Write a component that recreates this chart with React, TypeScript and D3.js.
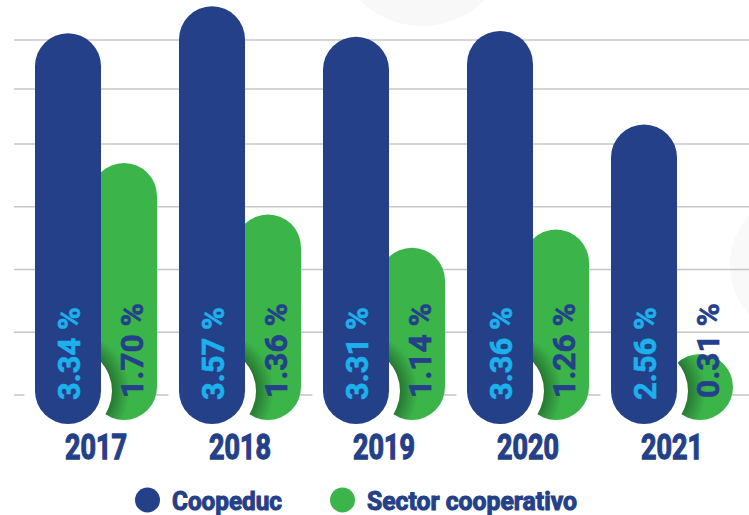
import React from "react";
import * as d3 from "d3";

const years = ["2017", "2018", "2019", "2020", "2021"];
const coopeduc = [3.34, 3.57, 3.31, 3.36, 2.56];
const sector = [1.7, 1.36, 1.14, 1.26, 0.31];
const gridLevels = [0, 1, 2, 3, 4, 5, 6];
const seriesNames = ["Coopeduc", "Sector cooperativo"];

const W = 749;
const H = 515;
const BLUE = "#244088";
const GREEN = "#3bb54a";
const CYAN = "#1cb1ec";
const R = 33;

export default function App() {
  const x = d3.scaleBand<string>().domain(years).range([24, 744]).padding(0);
  const blueBottom = 424;
  const greenBottom = 420;
  const yBlue = d3.scaleLinear().domain([0, 3.6]).range([blueBottom, blueBottom - 3.6 * 117]);
  const hGreen = d3.scaleLinear().domain([0, 1.7]).range([0, 257]);
  const yGrid = d3.scaleLinear().domain([0, 4, 5, 6]).range([395, 144, 89, 40]);
  const off = 28;

  return (
    <svg width={W} height={H} style={{ position: "absolute", left: 0, top: 0, display: "block", background: "#fff" }}>
      <defs>
        {years.map((yr, i) => {
          const bc = (x(yr) as number) + x.bandwidth() / 2 - off;
          const gc = (x(yr) as number) + x.bandwidth() / 2 + off;
          const gh = Math.max(2 * R, hGreen(sector[i]));
          return (
            <React.Fragment key={yr}>
              <radialGradient id={`sh${i}`} gradientUnits="userSpaceOnUse" cx={bc} cy={blueBottom - R} r={62}>
                <stop offset="0.7" stopColor="#000" stopOpacity={0.35} />
                <stop offset="1" stopColor="#000" stopOpacity={0} />
              </radialGradient>
              <clipPath id={`gc${i}`}>
                <rect x={gc - R} y={greenBottom - gh} width={2 * R} height={gh} rx={R} ry={R} />
              </clipPath>
            </React.Fragment>
          );
        })}
      </defs>
      <circle cx={422} cy={-62} r={88} fill="#f8f8f8" />
      <circle cx={805} cy={265} r={75} fill="#f9f9f9" />
      {gridLevels.map((g) => (
        <line key={g} x1={14} x2={W} y1={yGrid(g)} y2={yGrid(g)} stroke="#c6c6c6" strokeWidth={1.5} />
      ))}
      {years.map((yr, i) => {
        const bc = (x(yr) as number) + x.bandwidth() / 2 - off;
        const gc = (x(yr) as number) + x.bandwidth() / 2 + off;
        const gh = Math.max(2 * R, hGreen(sector[i]));
        const bTop = yBlue(coopeduc[i]);
        return (
          <g key={yr}>
            <rect x={gc - R} y={greenBottom - gh} width={2 * R} height={gh} rx={R} ry={R} fill={GREEN} />
            <circle cx={bc} cy={blueBottom - R} r={62} fill={`url(#sh${i})`} clipPath={`url(#gc${i})`} />
            <circle cx={bc} cy={blueBottom - R} r={44} fill="#fff" />
            <rect x={bc - R} y={bTop} width={2 * R} height={blueBottom - bTop} rx={R} ry={R} fill={BLUE} />
            <text
              transform={`translate(${bc + 12},400) rotate(-90)`}
              fontFamily="Roboto, sans-serif"
              fontWeight={700}
              fontSize={32}
              fill={CYAN}
              stroke={CYAN}
              strokeWidth={0.6}
              textLength={93}
              lengthAdjust="spacingAndGlyphs"
            >
              {`${coopeduc[i].toFixed(2)} %`}
            </text>
            <text
              transform={`translate(${gc + 19},398) rotate(-90)`}
              fontFamily="Roboto, sans-serif"
              fontWeight={700}
              fontSize={32}
              fill={BLUE}
              stroke={BLUE}
              strokeWidth={0.6}
              textLength={95}
              lengthAdjust="spacingAndGlyphs"
            >
              {`${sector[i].toFixed(2)} %`}
            </text>
            <text
              x={(x(yr) as number) + x.bandwidth() / 2}
              y={459}
              textAnchor="middle"
              fontFamily="Roboto, sans-serif"
              fontWeight={700}
              fontSize={35}
              fill={BLUE}
              stroke={BLUE}
              strokeWidth={1.3}
              textLength={62}
              lengthAdjust="spacingAndGlyphs"
            >
              {yr}
            </text>
          </g>
        );
      })}
      <g>
        <circle cx={147.5} cy={500} r={12.5} fill={BLUE} />
        <text x={172} y={510} fontFamily="Roboto, sans-serif" fontWeight={700} fontSize={25} fill={BLUE} stroke={BLUE} strokeWidth={1} textLength={110} lengthAdjust="spacingAndGlyphs">
          {seriesNames[0]}
        </text>
        <circle cx={342.5} cy={500} r={12.5} fill={GREEN} />
        <text x={367} y={510} fontFamily="Roboto, sans-serif" fontWeight={700} fontSize={25} fill={BLUE} stroke={BLUE} strokeWidth={1} textLength={210} lengthAdjust="spacingAndGlyphs">
          {seriesNames[1]}
        </text>
      </g>
    </svg>
  );
}
